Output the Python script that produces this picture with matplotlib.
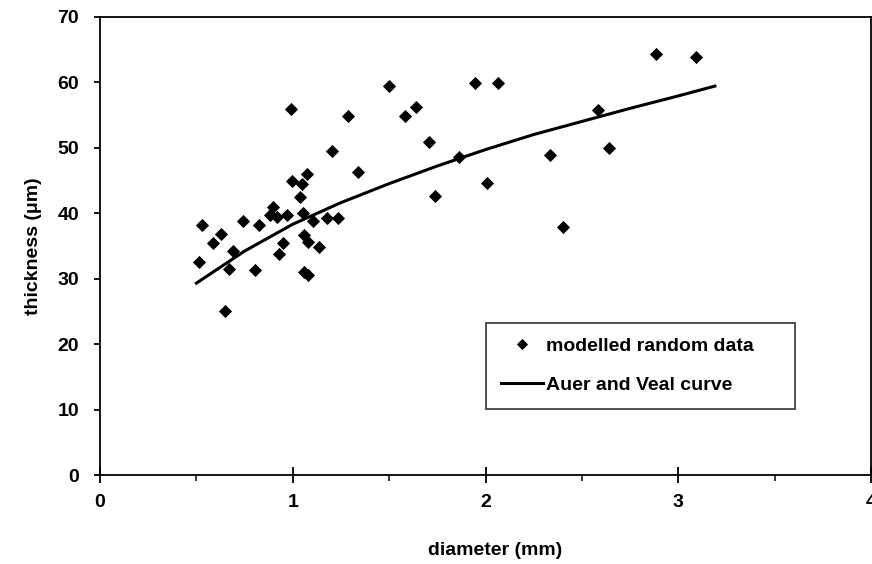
import matplotlib
matplotlib.use("Agg")
import matplotlib.pyplot as plt
from matplotlib.ticker import MultipleLocator

plt.rcParams["font.family"] = ["Liberation Sans", "DejaVu Sans"]
plt.rcParams["font.weight"] = "bold"

# Measured coating thickness vs. fibre diameter
diameter_mm = [
    0.99, 1.50, 1.285, 1.206, 1.339, 1.074, 0.995, 1.047, 1.04, 0.90,
    0.882, 0.917, 0.972, 1.053, 1.107, 1.176, 1.237, 0.74, 0.827, 0.528,
    0.626, 0.588, 1.059, 1.081, 0.948, 1.136, 0.692, 0.931, 0.515, 0.669,
    0.804, 1.059, 1.081, 0.65,
    1.946, 2.064, 1.64, 1.583, 1.709, 1.865, 1.738, 2.006, 2.335, 2.583,
    2.641, 2.401, 2.882, 3.09,
]
thickness_um = [
    55.9, 59.4, 54.9, 49.5, 46.3, 46.0, 44.9, 44.5, 42.5, 41.0,
    39.7, 39.4, 39.7, 40.0, 38.8, 39.3, 39.3, 38.8, 38.2, 38.2,
    36.8, 35.5, 36.6, 35.6, 35.5, 34.8, 34.2, 33.7, 32.5, 31.4,
    31.3, 31.0, 30.5, 25.0,
    59.8, 59.9, 56.2, 54.9, 50.8, 48.6, 42.6, 44.6, 48.9, 55.7,
    49.9, 37.9, 64.3, 63.9,
]

# Auer and Veal relation, sampled along the drawn curve
curve_d = [0.50, 0.75, 1.00, 1.25, 1.50, 1.75, 2.00, 2.25, 2.50, 2.75, 3.00, 3.19]
curve_t = [29.3, 34.2, 38.3, 41.6, 44.5, 47.2, 49.7, 52.0, 54.0, 56.0, 57.9, 59.4]

x_ticks = [0, 1, 2, 3, 4]
y_ticks = [0, 10, 20, 30, 40, 50, 60, 70]

FS = 14

fig = plt.figure(figsize=(8.72, 5.64), dpi=100)
ax = fig.add_axes([100 / 872, 1 - 475 / 564, 771 / 872, (475 - 16.7) / 564])

ax.plot(diameter_mm, thickness_um, linestyle="none", marker="D",
        markersize=6.2, color="black", markeredgewidth=0.6,
        label="modelled random data")
ax.plot(curve_d, curve_t, color="black", linewidth=2.2,
        label="Auer and Veal curve")

ax.set_xlim(0, 4)
ax.set_ylim(0, 70)
ax.set_xticks(x_ticks)
ax.set_yticks(y_ticks)
ax.xaxis.set_minor_locator(MultipleLocator(0.5))

for side in ax.spines.values():
    side.set_linewidth(1.3)

ax.tick_params(axis="x", which="major", direction="inout", length=11,
               width=1.3, pad=8, labelsize=FS)
ax.tick_params(axis="x", which="minor", direction="out", length=4, width=1.1)
ax.tick_params(axis="y", which="major", direction="out", length=4,
               width=1.3, pad=11, labelsize=FS)
for lbl in ax.get_xticklabels() + ax.get_yticklabels():
    lbl.set_fontweight("bold")

ax.set_xlabel("diameter (mm)", fontsize=FS, fontweight="bold")
ax.xaxis.set_label_coords(0.512, -0.146)
ax.set_ylabel("thickness (μm)", fontsize=FS, fontweight="bold", labelpad=11)

leg = ax.legend(loc="upper left", bbox_to_anchor=(0.5006, 0.144, 0.4008, 0.1877),
                mode="expand", frameon=True, fancybox=False, shadow=False,
                prop={"weight": "bold", "size": FS},
                handlelength=2.2, handletextpad=0.15, borderpad=0.75,
                labelspacing=1.1, markerscale=0.85, borderaxespad=0)
leg.get_frame().set_edgecolor("black")
leg.get_frame().set_linewidth(1.2)

fig.savefig("out.png", dpi=100)
